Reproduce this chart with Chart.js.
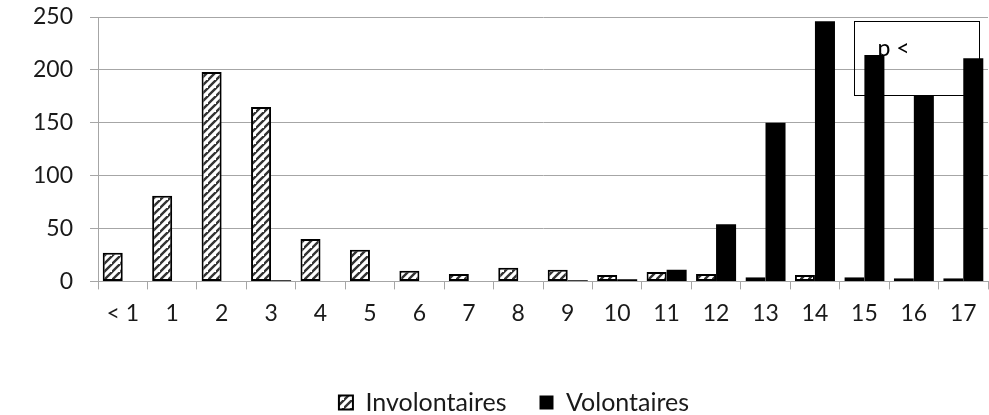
<!DOCTYPE html>
<html>
<head>
<meta charset="utf-8">
<script src="https://cdn.jsdelivr.net/npm/chart.js@4/dist/chart.umd.min.js"></script>
<style>
  html, body { margin: 0; padding: 0; background: #fff; }
  #wrap { width: 989px; height: 415px; }
</style>
</head>
<body>
<div id="wrap"><canvas id="graphique"></canvas></div>
<script>
'use strict'

// DONNEES DU GRAPHIQUE
const categories = ['< 1', '1', '2', '3', '4', '5', '6', '7', '8', '9', '10', '11', '12', '13', '14', '15', '16', '17'];
const involontaires = [27, 81, 198, 165, 40, 30, 10, 7, 13, 11, 6, 9, 7, 4, 6, 4, 3, 3];
const volontaires = [0, 0, 0, 1, 0, 0, 0, 0.4, 0, 1, 2, 11, 54, 150, 246, 214, 176, 211];
const yTicks = [0, 50, 100, 150, 200, 250];
const annotationText = 'p <';

const gris = '#a6a6a6';
const police = 'Lato, "Noto Sans", sans-serif';
const taille = 23;

// motif hachuré pour les involontaires
function motifHachure() {
  const n = 8;
  const c = document.createElement('canvas');
  c.width = n;
  c.height = n;
  const g = c.getContext('2d');
  g.fillStyle = '#fff';
  g.fillRect(0, 0, n, n);
  g.strokeStyle = '#333';
  g.lineWidth = 2.4;
  g.beginPath();
  g.moveTo(-1, n + 1); g.lineTo(n + 1, -1);
  g.moveTo(-n - 1, n + 1); g.lineTo(1, -1);
  g.moveTo(n - 1, 2 * n + 1); g.lineTo(2 * n + 1, n - 1);
  g.stroke();
  return g.createPattern(c, 'repeat');
}

// cadre "p <" dessiné derrière les barres
const cadreTexte = {
  id: 'cadreTexte',
  beforeDatasetsDraw(chart) {
    const { ctx, scales } = chart;
    const x = scales.x, y = scales.y;
    const left = x.getPixelForValue(14.78);
    const right = x.getPixelForValue(17.3);
    const top = y.getPixelForValue(246);
    const bottom = y.getPixelForValue(176);
    ctx.save();
    ctx.strokeStyle = '#000';
    ctx.lineWidth = 1;
    ctx.strokeRect(Math.round(left) + 0.5, Math.round(top) + 0.5, Math.round(right - left), Math.round(bottom - top));
    ctx.fillStyle = '#000';
    ctx.font = taille + 'px ' + police;
    ctx.textBaseline = 'alphabetic';
    ctx.fillText(annotationText, left + 24, top + 35);
    ctx.restore();
  }
};

// recentrer et descendre un peu la légende
const decalageLegende = {
  id: 'decalageLegende',
  afterLayout(chart) {
    chart.legend.top += 10;
    chart.legend.bottom += 10;
    chart.legend.left += 20;
    chart.legend.right += 20;
  }
};

function crearGrafica() {
  const ctx = document.getElementById('graphique').getContext('2d');
  const hachure = motifHachure();

  new Chart(ctx, {
    type: 'bar',
    data: {
      labels: categories,
      datasets: [{
        label: 'Involontaires',
        data: involontaires,
        backgroundColor: hachure,
        borderColor: '#000',
        borderWidth: 2,
        borderSkipped: false,
        categoryPercentage: 0.81,
        barPercentage: 1
      }, {
        label: 'Volontaires',
        data: volontaires,
        backgroundColor: '#000',
        borderColor: '#000',
        borderWidth: 0,
        categoryPercentage: 0.81,
        barPercentage: 1
      }]
    },
    options: {
      responsive: true,
      maintainAspectRatio: false,
      animation: false,
      layout: { padding: { top: 17, right: 1, left: 0, bottom: 0 } },
      scales: {
        x: {
          grid: { offset: true, drawOnChartArea: false, color: gris, tickLength: 8 },
          border: { color: gris },
          ticks: { color: '#1a1a1a', font: { family: police, size: taille }, padding: 10, maxRotation: 0 },
          afterFit(axis) { axis.height += 10; }
        },
        y: {
          min: 0,
          max: 250,
          afterBuildTicks(axis) { axis.ticks = yTicks.map(v => ({ value: v })); },
          grid: { color: gris, tickLength: 8 },
          border: { color: gris },
          ticks: { color: '#1a1a1a', font: { family: police, size: taille }, padding: 17 },
          afterFit(axis) {
            axis.width += 16;
            axis.paddingTop = 0;
            axis.paddingBottom = 0;
          }
        }
      },
      plugins: {
        legend: {
          position: 'bottom',
          labels: {
            color: '#1a1a1a',
            font: { family: police, size: 25 },
            boxWidth: 14,
            boxHeight: 14,
            padding: 33
          }
        },
        tooltip: { enabled: false }
      }
    },
    plugins: [cadreTexte, decalageLegende]
  });
}

crearGrafica();
</script>
</body>
</html>
